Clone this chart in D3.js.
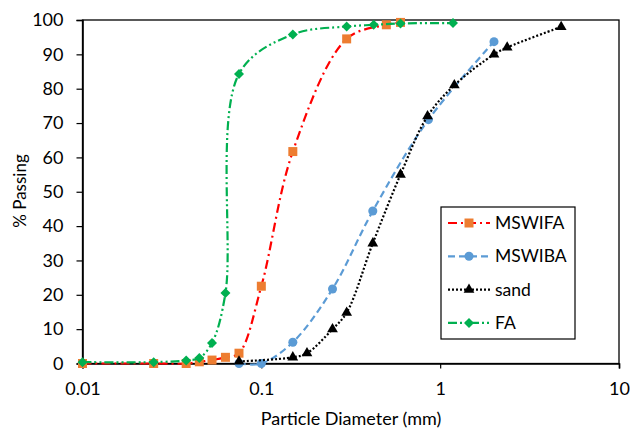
<!DOCTYPE html>
<html>
<head>
<meta charset="utf-8">
<script src="https://cdn.jsdelivr.net/npm/d3@7"></script>
<style>
  body { margin: 0; background: #fff; }
  svg { display: block; font-family: Lato, "Open Sans", sans-serif; }
</style>
</head>
<body>
<svg id="chart" width="630" height="428"></svg>
<script>
// particle sizes (mm) and % passing
const mswifaX = [0.01, 0.025, 0.038, 0.045, 0.053, 0.063, 0.075, 0.1, 0.15, 0.3, 0.5, 0.6];
const mswifaY = [0, 0, 0, 0.5, 1, 1.8, 3, 22.5, 61.7, 94.5, 98.6, 99.3];

const mswibaX = [0.075, 0.1, 0.15, 0.25, 0.42, 0.86, 2];
const mswibaY = [0, 0, 6.2, 21.7, 44.4, 71, 93.7];

const sandX = [0.075, 0.15, 0.18, 0.25, 0.3, 0.42, 0.6, 0.85, 1.2, 2, 2.37, 4.75];
const sandY = [0.6, 1.8, 3, 10, 14.8, 35, 55, 72, 81, 90, 92, 98];

const faX = [0.01, 0.025, 0.038, 0.045, 0.053, 0.063, 0.075, 0.15, 0.3, 0.425, 0.6, 1.18];
const faY = [0.4, 0.4, 0.9, 1.6, 6, 20.5, 84.3, 95.8, 98.1, 98.6, 99, 99.1];

const xTicks = [0.01, 0.1, 1, 10];
const yTicks = d3.range(0, 101, 10);

const series = [
  { name: "MSWIFA", xs: mswifaX, ys: mswifaY, line: "#ff0000", fill: "#ed7d31", dash: "9,4,2,4", symbol: d3.symbolSquare, size: 81, rot: 0 },
  { name: "MSWIBA", xs: mswibaX, ys: mswibaY, line: "#5b9bd5", fill: "#5b9bd5", dash: "7,4", symbol: d3.symbolCircle, size: 64, rot: 0 },
  { name: "sand", xs: sandX, ys: sandY, line: "#000000", fill: "#000000", dash: "2,2", symbol: d3.symbolTriangle, size: 50, rot: 0 },
  { name: "FA", xs: faX, ys: faY, line: "#00b050", fill: "#00b050", dash: "9,3,2,3,2,3", symbol: d3.symbolSquare, size: 50, rot: 45 }
];

const svg = d3.select("#chart");
const x = d3.scaleLog().domain([0.01, 10]).range([82.5, 619]);
const y = d3.scaleLinear().domain([0, 100]).range([363.5, 20]);

// frame (top and right edges)
svg.append("rect")
  .attr("x", 82.5).attr("y", 20)
  .attr("width", 619 - 82.5).attr("height", 363.5 - 20)
  .attr("fill", "none").attr("stroke", "#000").attr("stroke-width", 1.3);

const xAxis = svg.append("g")
  .attr("transform", "translate(0,363.5)")
  .call(d3.axisBottom(x).tickValues(xTicks).tickFormat(d3.format("")).tickSize(5).tickPadding(14));
const yAxis = svg.append("g")
  .attr("transform", "translate(82.5,0)")
  .call(d3.axisLeft(y).tickValues(yTicks).tickSize(6).tickPadding(13));

[xAxis, yAxis].forEach(g => {
  g.select(".domain").attr("stroke", "#000").attr("stroke-width", 1.6);
  g.selectAll(".tick line").attr("stroke", "#000").attr("stroke-width", 1.2);
  g.selectAll("text").attr("font-size", 18).attr("fill", "#000").style("font-family", "Lato, sans-serif");
});

svg.append("text")
  .attr("x", 351).attr("y", 425)
  .attr("text-anchor", "middle").attr("font-size", 18)
  .text("Particle Diameter (mm)");

svg.append("text")
  .attr("transform", "translate(26,191) rotate(-90)")
  .attr("text-anchor", "middle").attr("font-size", 17)
  .text("% Passing");

const line = d3.line()
  .x(d => x(d[0]))
  .y(d => y(d[1]))
  .curve(d3.curveCatmullRom.alpha(0.5));

series.forEach(s => {
  const pts = s.xs.map((v, i) => [v, s.ys[i]]);
  const g = svg.append("g");
  g.append("path")
    .attr("d", line(pts))
    .attr("fill", "none")
    .attr("stroke", s.line)
    .attr("stroke-width", 2.2)
    .attr("stroke-dasharray", s.dash);
  g.selectAll("path.pt")
    .data(pts)
    .enter()
    .append("path")
    .attr("class", "pt")
    .attr("d", d3.symbol().type(s.symbol).size(s.size))
    .attr("transform", d => `translate(${x(d[0])},${y(d[1])}) rotate(${s.rot})`)
    .attr("fill", s.fill);
});

// legend
const legend = svg.append("g");
legend.append("rect")
  .attr("x", 441).attr("y", 207)
  .attr("width", 134).attr("height", 132)
  .attr("fill", "#fff").attr("stroke", "#000").attr("stroke-width", 1.2);

series.forEach((s, i) => {
  const ly = 223 + i * 33.3;
  legend.append("line")
    .attr("x1", 448).attr("x2", 490)
    .attr("y1", ly).attr("y2", ly)
    .attr("stroke", s.line).attr("stroke-width", 2.2)
    .attr("stroke-dasharray", s.dash);
  legend.append("path")
    .attr("d", d3.symbol().type(s.symbol).size(s.size))
    .attr("transform", `translate(469,${ly}) rotate(${s.rot})`)
    .attr("fill", s.fill);
  legend.append("text")
    .attr("x", 495).attr("y", ly)
    .attr("dy", "0.35em")
    .attr("font-size", 17.5)
    .text(s.name);
});
</script>
</body>
</html>
